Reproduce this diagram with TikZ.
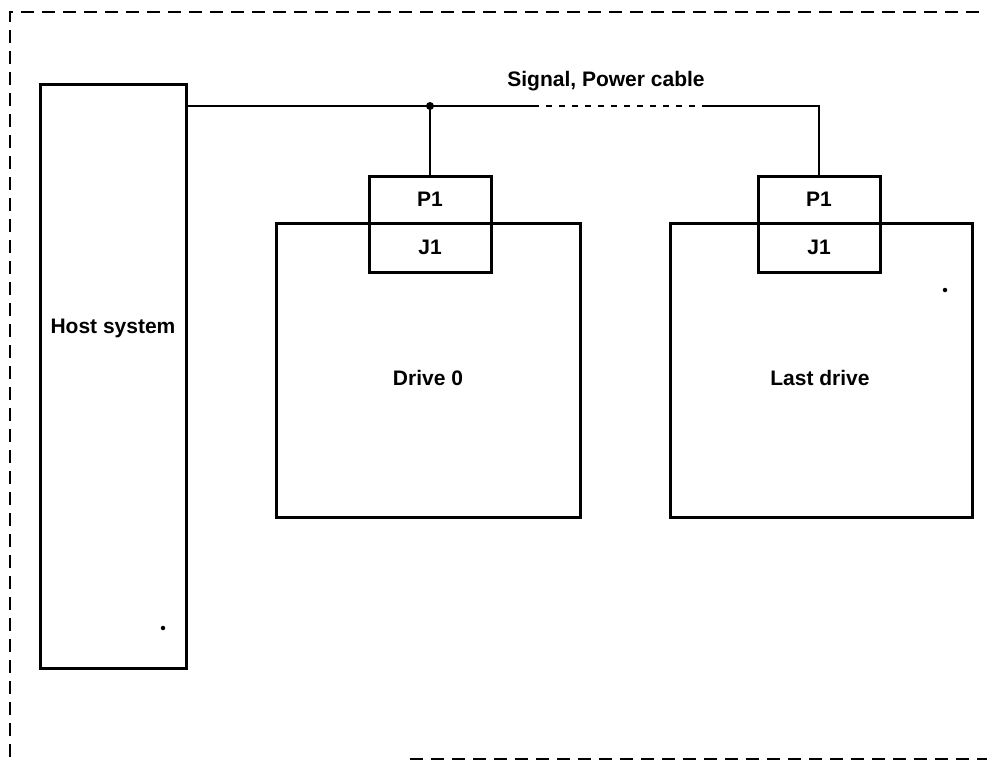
\documentclass[tikz,border=0pt]{standalone}
\usepackage{fontspec}
\setmainfont{Liberation Sans}
\begin{document}
\begin{tikzpicture}[x=1pt,y=-1pt,
  box/.style={draw, line width=3pt, inner sep=0pt, rectangle},
  conn/.style={draw, line width=3pt, inner sep=0pt, rectangle, minimum width=122pt, minimum height=96pt},
  txt/.style={inner sep=0pt, font=\bfseries\fontsize{21}{24}\selectfont},
  cable/.style={line width=2.3pt},
  dotcable/.style={line width=2.3pt, dash pattern=on 6pt off 7pt},
  frame/.style={line width=2.6pt, dash pattern=on 13pt off 8pt},
  speck/.style={fill=black, circle, inner sep=0pt, minimum size=4.5pt}
]
\useasboundingbox (0,0) rectangle (987,761);

% outer dashed frame
\draw[frame] (1000,12) -- (10,12) -- (10,761);
\draw[frame] (410,759) -- (1000,759);

% host system
\node[box, minimum width=146pt, minimum height=584pt] (host) at (113,376) {};
\node[txt] (hosttxt) at (113,328) {Host system};

% drive 0
\node[box, minimum width=304pt, minimum height=294pt] (drv0) at (428,370) {};
\node[txt] (drv0txt) at (428,378) {Drive 0};
\node[conn] (pj0) at (430,224) {};
\node[txt] (p0) at (430,199) {P1};
\node[txt] (j0txt) at (430,247) {J1};

% last drive
\node[box, minimum width=302pt, minimum height=294pt] (drv1) at (821,370) {};
\node[txt] (drv1txt) at (820,378) {Last drive};
\node[conn] (pj1) at (819,224) {};
\node[txt] (p1) at (819,199) {P1};
\node[txt] (j1txt) at (819,247) {J1};

% cable
\coordinate (jn) at (430,106);
\coordinate (ds) at (533,106);
\coordinate (de) at (708,106);
\draw[cable] (host.east |- jn) -- (jn) -- (ds);
\draw[dotcable] (ds) -- (de);
\draw[cable] (de) -- (pj1.north |- de) -- (pj1.north);
\draw[cable] (jn) -- (pj0.north);
\fill (jn) circle (4pt);
\node[txt] (cabletxt) at (606,81) {Signal, Power cable};

% specks
\node[speck] (s1) at (163,628) {};
\node[speck] (s2) at (945,290) {};
\end{tikzpicture}
\end{document}
